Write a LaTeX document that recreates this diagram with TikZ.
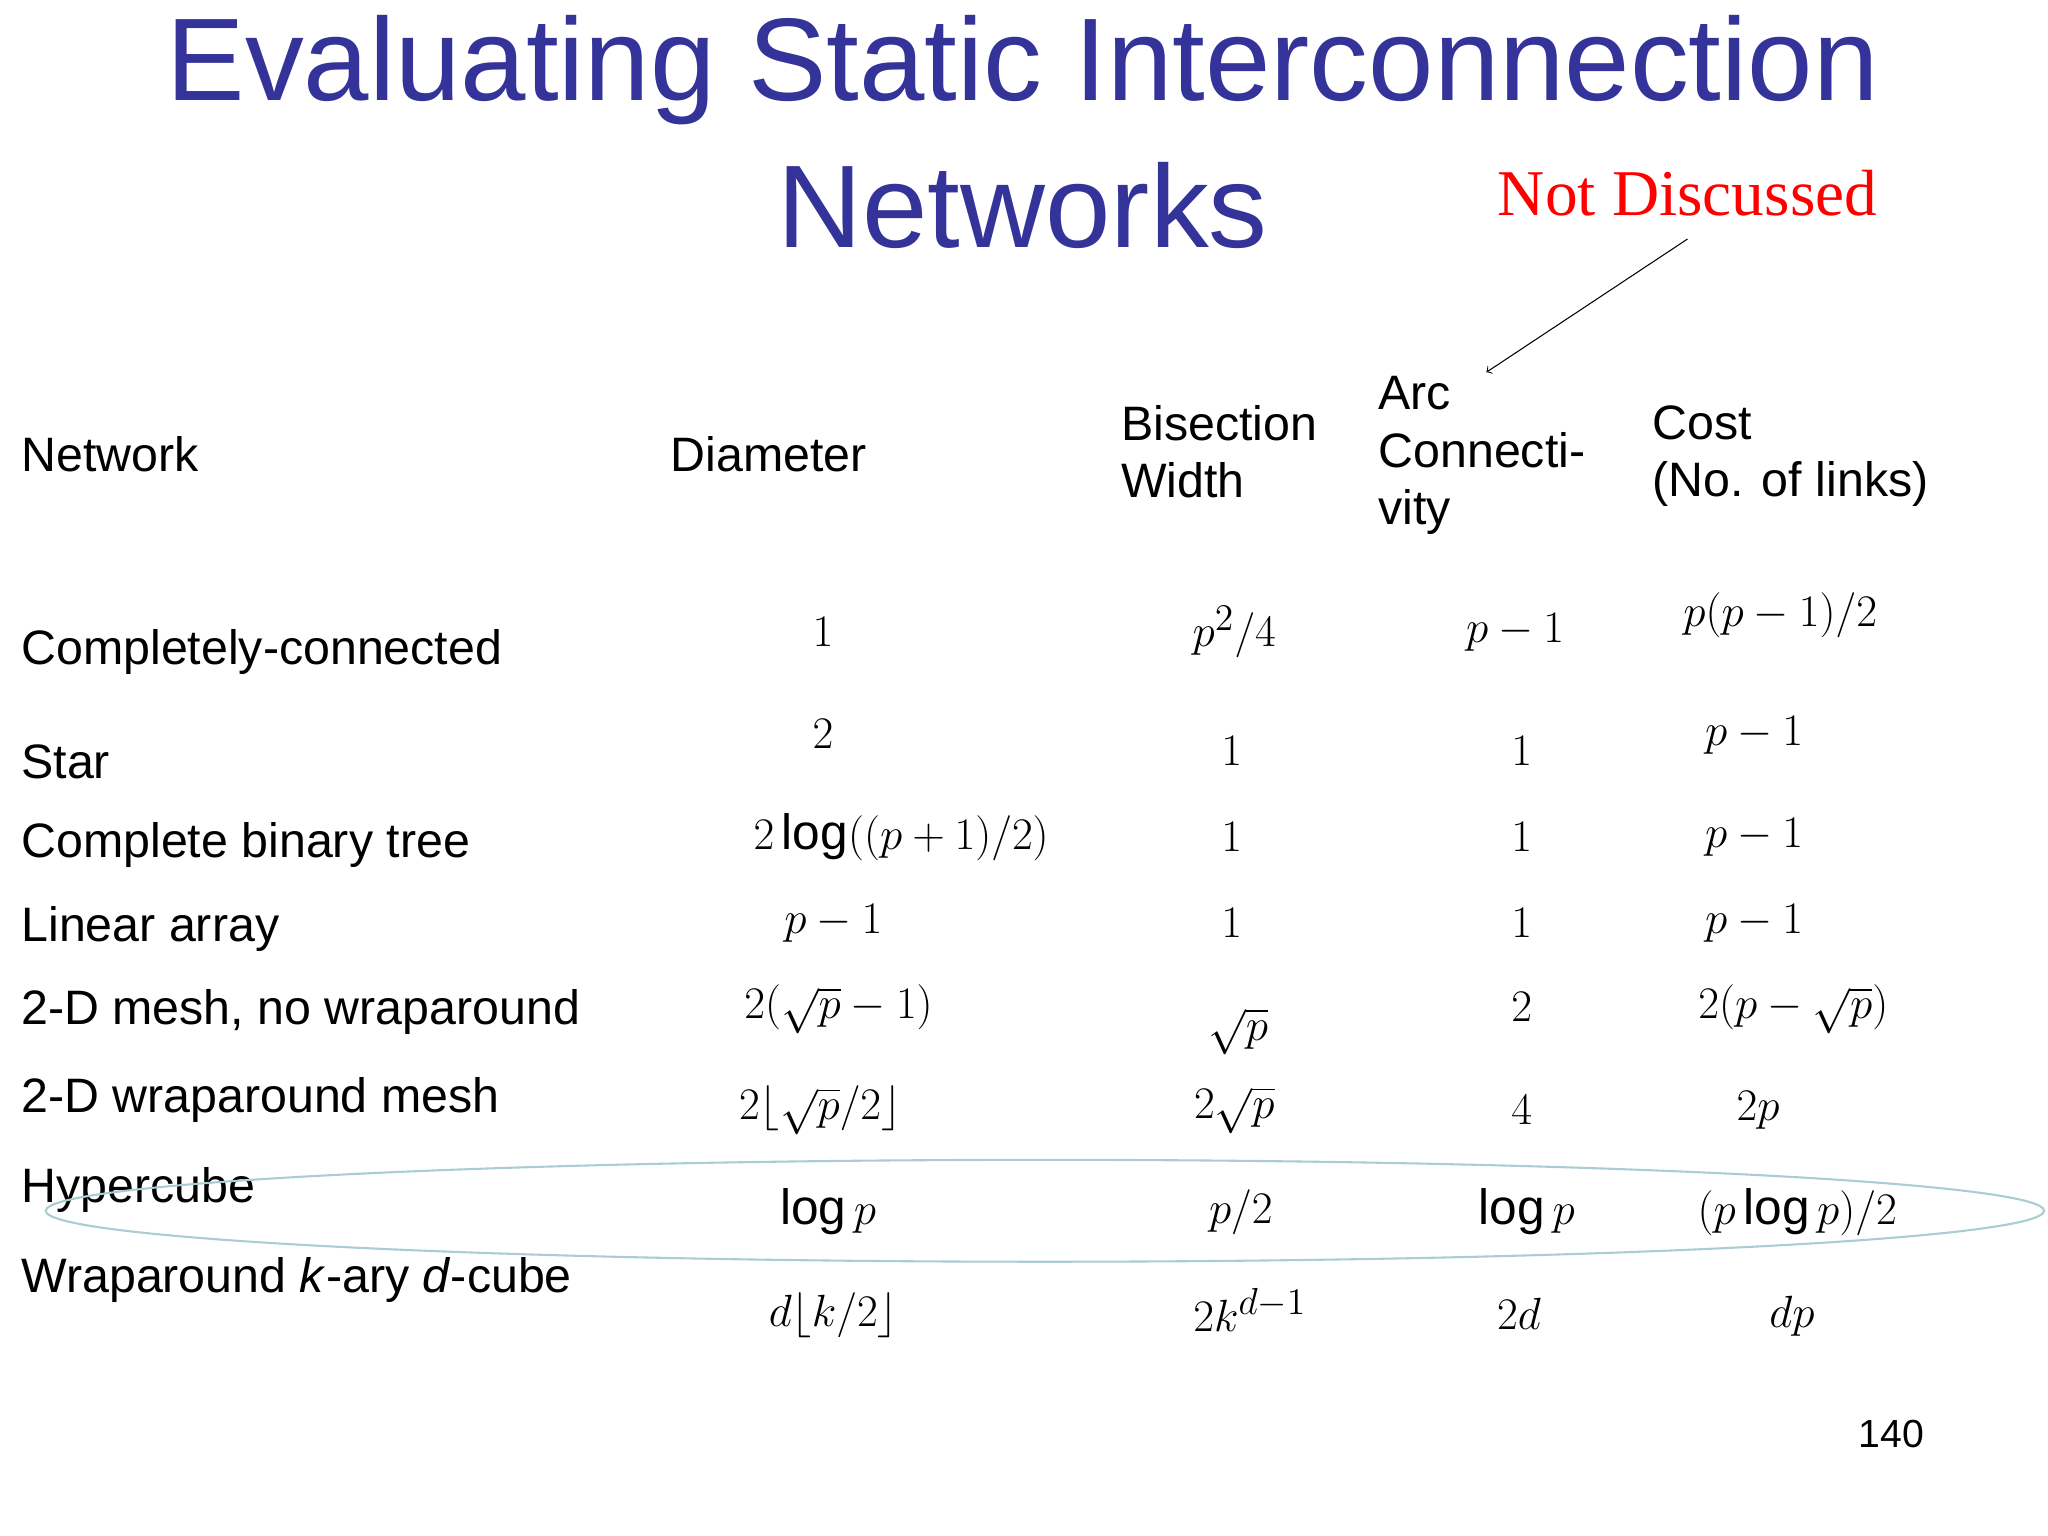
\documentclass[tikz,border=0pt]{standalone}
\usepackage{fontspec}
\setmainfont{Liberation Sans}
\newfontfamily\tnr{Liberation Serif}
\usepackage{amsmath}
\begin{document}
\begin{tikzpicture}[x=0.5pt,y=-0.5pt,
  hd/.style={anchor=west,font=\fontsize{18.5}{22}\selectfont,inner sep=0},
  hdm/.style={anchor=west,font=\fontsize{18.5}{22}\selectfont,inner sep=0,align=left},
  mv/.style={font=\fontsize{19}{22}\selectfont,inner sep=0}]
\useasboundingbox (0,0) rectangle (1568,1176);
\fill[white] (0,0) rectangle (1568,1176);
\definecolor{tcol}{RGB}{51,51,153}
\node[text=tcol,font=\fontsize{45}{50}\selectfont] (t1) at (783,54) {Evaluating Static Interconnection};
\node[text=tcol,font=\fontsize{45}{50}\selectfont] (t2) at (783,157) {Networks};
\node[text=red,font=\tnr\fontsize{25}{28}\selectfont] (nd) at (1292,148) {Not Discussed};
\coordinate (a0) at (1292,183);
\coordinate (a1) at (1138,285);
\draw[->,thin] (a0) -- (a1);
% headers
\node[hd] (h1) at (16,348) {Network};
\node[hd] (h2) at (513,348) {Diameter};
\node[hdm,anchor=north west] (h3) at (858,310) {Bisection\\Width};
\node[hdm,anchor=north west] (h4) at (1055,288) {Arc\\Connecti-\\vity};
\node[hdm,anchor=north west] (h5) at (1265,310) {Cost\\(No. of links)};
% rows
\foreach \t/\y [count=\i] in {Completely-connected/499,Star/583,Complete binary tree/647,Linear array/711,{2-D mesh, no wraparound}/775,2-D wraparound mesh/842,Hypercube/911,{Wraparound \textit{k}-ary \textit{d}-cube}/980}
  \node[hd] (r\i) at (16,\y) {\t};
% diameter
\node[mv] (d1) at (630,484) {$1$};
\node[mv] (d2) at (630,562) {$2$};
\node[mv] (d3) at (690,641) {$2\log((p+1)/2)$};
\node[mv] (d4) at (638,707) {$p-1$};
\node[mv] (d5) at (642,773) {$2(\sqrt{p}-1)$};
\node[mv] (d6) at (628,850) {$2\lfloor\sqrt{p}/2\rfloor$};
\node[mv] (d7) at (634,928) {$\log p$};
\node[mv] (d8) at (638,1007) {$d\lfloor k/2\rfloor$};
% bisection
\node[mv] (b1) at (945,484) {$p^2/4$};
\node[mv] (b2) at (943,575) {$1$};
\node[mv] (b3) at (943,641) {$1$};
\node[mv] (b4) at (943,707) {$1$};
\node[mv] (b5) at (948,790) {$\sqrt{p}$};
\node[mv] (b6) at (945,850) {$2\sqrt{p}$};
\node[mv] (b7) at (950,928) {$p/2$};
\node[mv] (b8) at (957,1003) {$2k^{d-1}$};
% arc
\node[mv] (c1) at (1160,484) {$p-1$};
\node[mv] (c2) at (1165,575) {$1$};
\node[mv] (c3) at (1165,641) {$1$};
\node[mv] (c4) at (1165,707) {$1$};
\node[mv] (c5) at (1165,771) {$2$};
\node[mv] (c6) at (1165,850) {$4$};
\node[mv] (c7) at (1169,928) {$\log p$};
\node[mv] (c8) at (1163,1006) {$2d$};
% cost
\node[mv] (k1) at (1363,471) {$p(p-1)/2$};
\node[mv] (k2) at (1343,563) {$p-1$};
\node[mv] (k3) at (1343,641) {$p-1$};
\node[mv] (k4) at (1343,707) {$p-1$};
\node[mv] (k5) at (1373,773) {$2(p-\sqrt{p})$};
\node[mv] (k6) at (1346,850) {$2p$};
\node[mv] (k7) at (1376,928) {$(p\log p)/2$};
\node[mv] (k8) at (1372,1008) {$dp$};
\draw[color={rgb,255:red,170;green,205;blue,210},line width=0.8pt] (800,927) ellipse [x radius=765, y radius=39];
\node[font=\fontsize{15}{18}\selectfont] (pg) at (1448,1098) {140};
\end{tikzpicture}
\end{document}
